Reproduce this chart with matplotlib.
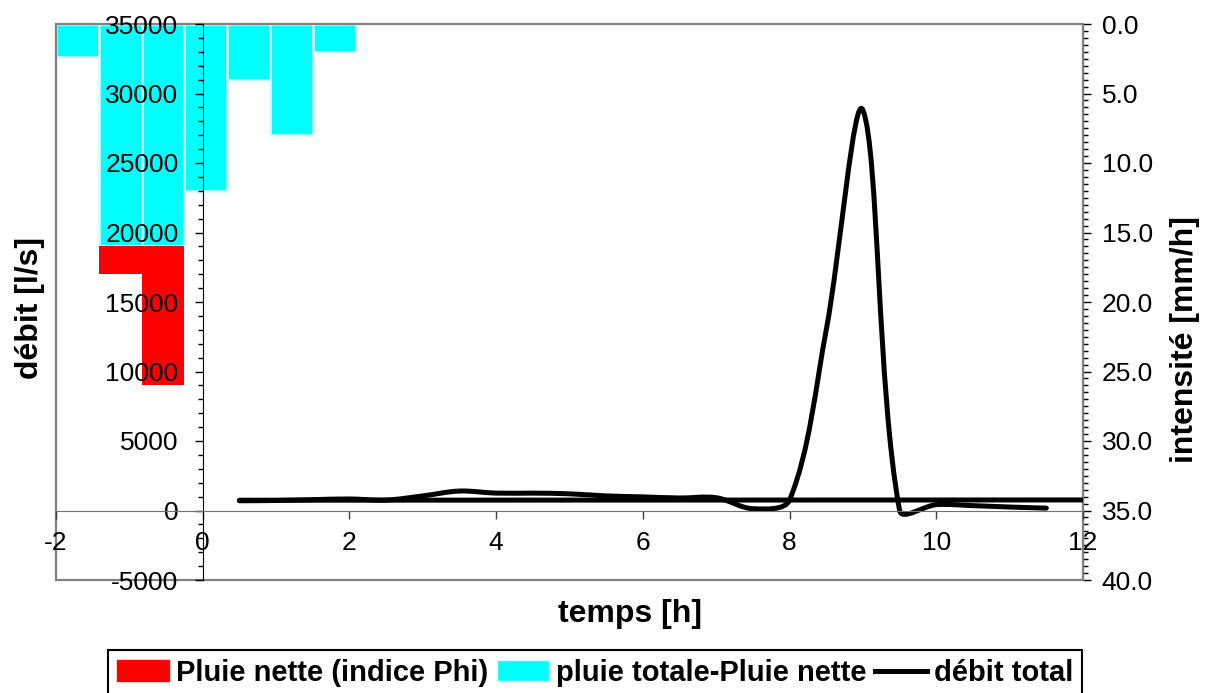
import numpy as np
import matplotlib.pyplot as plt
from matplotlib.path import Path
from matplotlib.patches import PathPatch, Patch, Rectangle
from matplotlib.lines import Line2D
from matplotlib.ticker import MultipleLocator, FormatStrFormatter

plt.rcParams['font.family'] = ['Liberation Sans', 'DejaVu Sans']
plt.rcParams['axes.unicode_minus'] = False

# hydrogramme (débit total), pas de 0.5 h
temps = [0.5, 1.0, 1.5, 2.0, 2.5, 3.0, 3.5, 4.0, 4.5, 5.0, 5.5, 6.0,
         6.5, 7.0, 7.5, 8.0, 8.5, 9.0, 9.5, 10.0, 10.5, 11.0, 11.5]
debit = [700, 720, 780, 830, 750, 1050, 1400, 1250, 1250, 1200, 1050, 980,
         900, 920, 130, 750, 13000, 28800, 0, 420, 350, 250, 170]

# débit de base (ligne horizontale)
base_t = [0.5, 12.0]
base_q = [740, 760]

# hyétogramme : 24 catégories sur l'axe secondaire, 7 pas renseignés
n_cat = 24
pas = [0, 1, 2, 3, 4, 5, 6]
pluie_nette = [0, 2.0, 10.0, 0, 0, 0, 0]
pluie_reste = [2.4, 16.0, 16.0, 12.0, 4.0, 8.0, 2.0]


def smooth_path(ax, xs, ys, k=1/3):
    # courbe lissée (Bezier) façon tableur, calculée en coordonnées écran
    pts = ax.transData.transform(np.column_stack([xs, ys]))
    n = len(pts)
    verts = [pts[0]]
    codes = [Path.MOVETO]
    for i in range(n - 1):
        p1, p2 = pts[i], pts[i + 1]
        p0 = pts[i - 1] if i > 0 else p1
        p3 = pts[i + 2] if i + 2 < n else p2
        l01 = np.hypot(*(p1 - p0))
        l12 = np.hypot(*(p2 - p1))
        l23 = np.hypot(*(p3 - p2))
        c1 = p1 + (p2 - p0) * k * l12 / (l01 + l12)
        c2 = p2 - (p3 - p1) * k * l12 / (l12 + l23)
        verts += [c1, c2, p2]
        codes += [Path.CURVE4] * 3
    verts = ax.transData.inverted().transform(np.array(verts))
    return Path(verts, codes)


fig = plt.figure(figsize=(12.06, 6.93), dpi=100)
rect = [56 / 1206, 1 - 580 / 693, 1027 / 1206, 556 / 693]

# axe des intensités (barres, axe de droite inversé)
axb = fig.add_axes(rect, zorder=1)
axb.bar(pas, pluie_reste, width=1.0, color='#00FFFF', edgecolor='#D4FFFF', linewidth=1.8)
axb.bar(pas, pluie_nette, width=1.0, bottom=pluie_reste, color='#FF0000', linewidth=0)
axb.set_xlim(-0.5, n_cat - 0.5)
axb.set_ylim(40, 0)
axb.set_xticks([])
axb.yaxis.tick_right()
axb.yaxis.set_major_locator(MultipleLocator(5))
axb.yaxis.set_minor_locator(MultipleLocator(0.5))
axb.yaxis.set_major_formatter(FormatStrFormatter('%.1f'))
axb.tick_params(axis='y', which='major', direction='out', length=5.5, width=1, labelsize=19, pad=8)
axb.tick_params(axis='y', which='minor', direction='out', length=3.5, width=1)
for s in ['left', 'top', 'bottom']:
    axb.spines[s].set_visible(False)
axb.spines['right'].set_color('black')

# axe des débits
ax = fig.add_axes(rect, zorder=2)
ax.patch.set_visible(False)
ax.set_xlim(-2, 12)
ax.set_ylim(-5000, 35000)
ax.spines['left'].set_position(('data', 0))
ax.spines['bottom'].set_position(('data', 0))
ax.spines['left'].set_color('black')
ax.spines['bottom'].set_color('#707070')
ax.spines['top'].set_visible(False)
ax.spines['right'].set_visible(False)
ax.xaxis.set_major_locator(MultipleLocator(2))
ax.yaxis.set_major_locator(MultipleLocator(5000))
ax.yaxis.set_minor_locator(MultipleLocator(1000))
ax.tick_params(axis='x', direction='out', length=5.5, width=1, color='#404040', labelsize=19, pad=9)
ax.tick_params(axis='y', which='major', direction='out', length=5.5, width=1, labelsize=19, pad=12)
ax.tick_params(axis='y', which='minor', direction='out', length=3.5, width=1)

ax.plot(base_t, base_q, color='black', linewidth=3.6, solid_capstyle='round')
ax.add_patch(PathPatch(smooth_path(ax, temps, debit), facecolor='none', edgecolor='black',
                       linewidth=3.6, capstyle='round', joinstyle='round'))

# cadre gris de la zone de tracé
ax.add_patch(Rectangle((0, 0), 1, 1, transform=ax.transAxes, fill=False,
                       edgecolor='#808080', linewidth=1.6, clip_on=False, zorder=0))

fig.text(30 / 1206, 1 - 308 / 693, 'débit [l/s]', rotation=90, ha='center', va='center',
         fontsize=23, fontweight='bold')
fig.text(1185 / 1206, 1 - 340 / 693, 'intensité [mm/h]', rotation=90, ha='center', va='center',
         fontsize=23, fontweight='bold')
fig.text(630 / 1206, 1 - 614 / 693, 'temps [h]', ha='center', va='center',
         fontsize=23, fontweight='bold')

handles = [Patch(facecolor='#FF0000', edgecolor='#FF0000'),
           Patch(facecolor='#00FFFF', edgecolor='#D4FFFF'),
           Line2D([], [], color='black', linewidth=3.6)]
labels = ['Pluie nette (indice Phi)', 'pluie totale-Pluie nette', 'débit total']
leg = fig.legend(handles, labels, loc='upper left', bbox_to_anchor=(108 / 1206, 1 - 650 / 693),
                 ncol=3, frameon=True, fancybox=False, framealpha=1, edgecolor='black',
                 prop={'size': 21, 'weight': 'bold'}, handlelength=1.8, handletextpad=0.22,
                 columnspacing=0.3, borderaxespad=0, borderpad=0.3)
leg.get_frame().set_linewidth(1.5)

fig.savefig('out.png', dpi=100)
